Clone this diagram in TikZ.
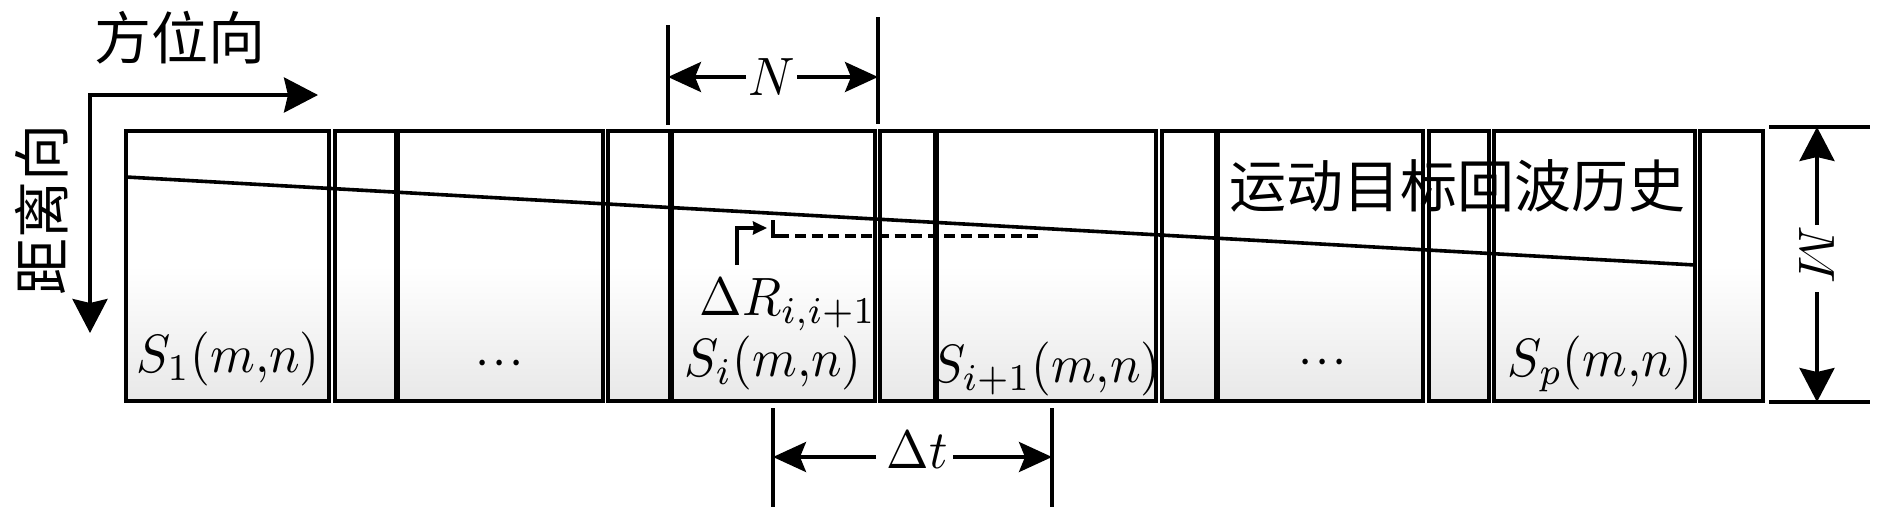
\documentclass[tikz,border=0pt]{standalone}
\usepackage{fontspec}
\newfontfamily\cjk{Noto Sans CJK SC}
\usetikzlibrary{arrows.meta}
\tikzset{
  cell/.style={line width=2.1pt, top color=white, bottom color=black!9, middle color=white},
  mathlbl/.style={inner sep=0pt, xscale=2.55, yscale=2.7},
  cjklbl/.style={inner sep=0pt, scale=2.85, font=\cjk},
  extline/.style={line width=1.8pt},
  dimarrow/.style={line width=1.7pt, -{Stealth[length=16.5pt,width=15pt,inset=3pt]}},
  axisarrow/.style={line width=1.9pt, {Stealth[length=17pt,width=17.5pt,inset=2pt]}-{Stealth[length=17pt,width=17.5pt,inset=2pt]}},
  smallarrow/.style={line width=1.7pt, -{Stealth[length=7pt,width=6.5pt,inset=0.5pt]}},
  track/.style={line width=1.8pt},
  dashtrack/.style={line width=1.8pt, dash pattern=on 5.5pt off 2.8pt},
}
\newcommand{\tridots}{{\cdotp}\mkern1mu{\cdotp}\mkern1mu{\cdotp}}
\begin{document}
\begin{tikzpicture}[x=0.5pt,y=-0.5pt]
\useasboundingbox (0,0) rectangle (1890,520);
% cells
\draw[cell] (126,131) rectangle (329,401);
\draw[cell] (335,131) rectangle (396,401);
\draw[cell] (398,131) rectangle (603,401);
\draw[cell] (608,131) rectangle (670,401);
\draw[cell] (672,131) rectangle (875,401);
\draw[cell] (880,131) rectangle (935,401);
\draw[cell] (937,131) rectangle (1156,401);
\draw[cell] (1162,131) rectangle (1216,401);
\draw[cell] (1218,131) rectangle (1423,401);
\draw[cell] (1429,131) rectangle (1489,401);
\draw[cell] (1494,131) rectangle (1695,401);
\draw[cell] (1700,131) rectangle (1763,401);
% target track
\coordinate (tr0) at (126,177);
\coordinate (tr1) at (1695,265);
\draw[track] (tr0) -- (tr1);
% dashed reference
\coordinate (dv0) at (773,220);
\coordinate (dv1) at (773,236);
\coordinate (dv2) at (789,236);
\coordinate (dh0) at (795,236);
\coordinate (dh1) at (1042,236);
\draw[track] (dv0) -- (dv1) -- (dv2);
\draw[dashtrack] (dh0) -- (dh1);
% small elbow arrow
\coordinate (dr0) at (737,265);
\coordinate (dr1) at (767,228);
\draw[smallarrow] (dr0) |- (dr1);
% labels in cells
\node[mathlbl] (s1) at (228,359) {$S_1(m{,}n)$};
\node[mathlbl, anchor=base] (d1) at (500,376) {$\tridots$};
\node[mathlbl] (si) at (773,363) {$S_i(m{,}n)$};
\node[mathlbl] (si1) at (1046,369) {$S_{i+1}(m{,}n)$};
\node[mathlbl, anchor=base] (d2) at (1323,375) {$\tridots$};
\node[mathlbl] (sp) at (1600,364) {$S_p(m{,}n)$};
\node[mathlbl, anchor=base] (dR) at (788,315) {$\Delta R_{i,i+1}$};
\node[cjklbl] (echo) at (1457,186) {运动目标回波历史};
% axes
\coordinate (O) at (90,95);
\coordinate (Ax) at (318,95);
\coordinate (Ay) at (90,333);
\draw[axisarrow] (Ay) -- (O) -- (Ax);
\node[cjklbl] (az) at (180,38) {方位向};
\node[cjklbl, rotate=90] (rg) at (42,210) {距离向};
% N dimension
\coordinate (Na) at (668,25);
\coordinate (Nb) at (668,125);
\coordinate (Nc) at (878,17);
\coordinate (Nd) at (878,124);
\draw[extline] (Na) -- (Nb);
\draw[extline] (Nc) -- (Nd);
\node[mathlbl, anchor=base] (N) at (772,95) {$N$};
\coordinate (Nl) at (668,77);
\coordinate (Nr) at (878,77);
\coordinate (Nl0) at (746,77);
\coordinate (Nr0) at (797,77);
\draw[dimarrow] (Nl0) -- (Nl);
\draw[dimarrow] (Nr0) -- (Nr);
% Delta t dimension
\coordinate (ta) at (773,408);
\coordinate (tb) at (773,507);
\coordinate (tc) at (1052,408);
\coordinate (td) at (1052,507);
\draw[extline] (ta) -- (tb);
\draw[extline] (tc) -- (td);
\node[mathlbl, anchor=base] (dt) at (917,468) {$\Delta t$};
\coordinate (tl) at (773,457);
\coordinate (tr) at (1052,457);
\coordinate (tl0) at (876,457);
\coordinate (tr0b) at (953,457);
\draw[dimarrow] (tl0) -- (tl);
\draw[dimarrow] (tr0b) -- (tr);
% M dimension
\coordinate (Ma) at (1769,127);
\coordinate (Mb) at (1870,127);
\coordinate (Mc) at (1769,402);
\coordinate (Md) at (1870,402);
\draw[extline] (Ma) -- (Mb);
\draw[extline] (Mc) -- (Md);
\node[mathlbl, rotate=-90] (M) at (1817,255) {$M$};
\coordinate (Mt) at (1817,127);
\coordinate (Mbt) at (1817,402);
\coordinate (Mt0) at (1817,225);
\coordinate (Mb0) at (1817,292);
\draw[dimarrow, -{Stealth[length=17pt,width=17.5pt,inset=2pt]}] (Mt0) -- (Mt);
\draw[dimarrow, -{Stealth[length=17pt,width=17.5pt,inset=2pt]}] (Mb0) -- (Mbt);
\end{tikzpicture}
\end{document}
